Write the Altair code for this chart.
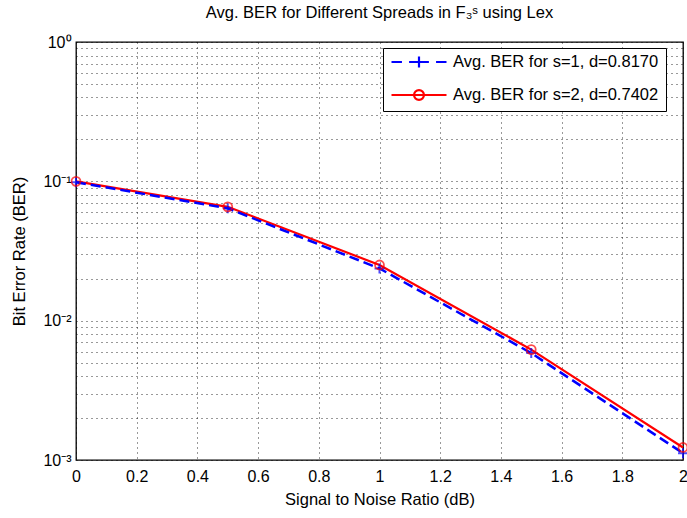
import altair as alt
import pandas as pd

# ---- data ----
snr_db = [0.0, 0.5, 1.0, 1.5, 2.0]
ber_s1 = [0.0985, 0.0640, 0.0237, 0.00585, 0.00112]
ber_s2 = [0.1000, 0.0656, 0.0251, 0.00620, 0.00123]
series_labels = ["Avg. BER for s=1, d=0.8170", "Avg. BER for s=2, d=0.7402"]
series_colors = ["#0000ff", "#ff0000"]

x_tick_values = [0.0, 0.2, 0.4, 0.6, 0.8, 1.0, 1.2, 1.4, 1.6, 1.8, 2.0]
y_decades = [0.001, 0.01, 0.1, 1.0]
y_decade_labels = ["10⁻³", "10⁻²", "10⁻¹", "10⁰"]
y_grid_values = [m * d for d in [0.001, 0.01, 0.1] for m in range(1, 10)] + [1.0]

title_text = "Avg. BER for Different Spreads in F₃ˢ using Lex"
x_title = "Signal to Noise Ratio (dB)"
y_title = "Bit Error Rate (BER)"

FONT = "Liberation Sans"

# legend symbol paths (line + marker)
legend_paths = [
    "M-1,0H-0.62M-0.36,0H0.36M0.62,0H1M0,-0.2V0.2",
    "M-1,0H1M-0.18,0A0.18,0.18 0 1,0 0.18,0A0.18,0.18 0 1,0 -0.18,0",
]

df = pd.DataFrame({
    "snr": snr_db * 2,
    "ber": ber_s1 + ber_s2,
    "series": [series_labels[0]] * len(snr_db) + [series_labels[1]] * len(snr_db),
})

label_expr = " : ".join(
    f"abs(datum.value - {v}) < {v * 1e-6} ? '{l}'" for v, l in zip(y_decades, y_decade_labels)
) + " : ''"

x_enc = alt.X(
    "snr:Q",
    scale=alt.Scale(domain=[0, 2], nice=False, zero=False),
    axis=alt.Axis(values=x_tick_values, format=".1~f", title=x_title,
                  labelPadding=8, titlePadding=7, labelFlush=False),
)
y_enc = alt.Y(
    "ber:Q",
    scale=alt.Scale(type="log", domain=[0.001, 1], nice=False),
    axis=alt.Axis(values=y_grid_values, labelExpr=label_expr, title=y_title,
                  labelPadding=5, titlePadding=15, labelOverlap=False, labelFlush=False),
)

base = alt.Chart(df).encode(x=x_enc, y=y_enc)

blue_line = base.transform_filter(alt.datum.series == series_labels[0]).mark_line(
    color=series_colors[0], strokeDash=[10, 5], strokeWidth=2.5)
red_line = base.transform_filter(alt.datum.series == series_labels[1]).mark_line(
    color=series_colors[1], strokeWidth=2.2)
blue_pts = base.transform_filter(alt.datum.series == series_labels[0]).mark_point(
    shape="M-1,0H1M0,-1V1", size=100, color=series_colors[0], filled=False, strokeWidth=2)
red_pts = base.transform_filter(alt.datum.series == series_labels[1]).mark_point(
    shape="circle", size=80, color=series_colors[1], filled=False, strokeWidth=1.8)

legend_layer = base.mark_point(opacity=0, filled=False).encode(
    color=alt.Color("series:N", title=None,
                    scale=alt.Scale(domain=series_labels, range=series_colors)),
    shape=alt.Shape("series:N", title=None,
                    scale=alt.Scale(domain=series_labels, range=legend_paths)),
)

chart = alt.layer(red_line, blue_line, blue_pts, red_pts, legend_layer).properties(
    width=607, height=418,
    title=alt.TitleParams(title_text, fontSize=16.5, fontWeight="normal",
                          font=FONT, color="black", offset=13),
    autosize=alt.AutoSizeParams(type="none"),
    padding={"left": 76, "top": 42, "right": 4, "bottom": 58},
    background="white",
).configure_axis(
    grid=True, gridDash=[1, 4], gridColor="black", gridOpacity=0.8, gridWidth=1,
    domain=False, ticks=False,
    labelFont=FONT, labelFontSize=16, labelColor="black",
    titleFont=FONT, titleFontSize=16.5, titleFontWeight="normal", titleColor="black",
).configure_view(
    stroke="black", strokeWidth=1.3, fill="white",
).configure_legend(
    orient="none", legendX=307, legendY=6,
    fillColor="white", strokeColor="black", strokeWidth=1,
    padding=7, clipHeight=14, rowPadding=16,
    symbolSize=3025, symbolStrokeWidth=2.2, symbolOpacity=1, symbolFillColor="transparent",
    labelFont=FONT, labelFontSize=16.5, labelColor="black", labelOffset=5,
    labelLimit=400,
)

chart.save("out.html", embed_options={"renderer": "svg", "actions": False})
